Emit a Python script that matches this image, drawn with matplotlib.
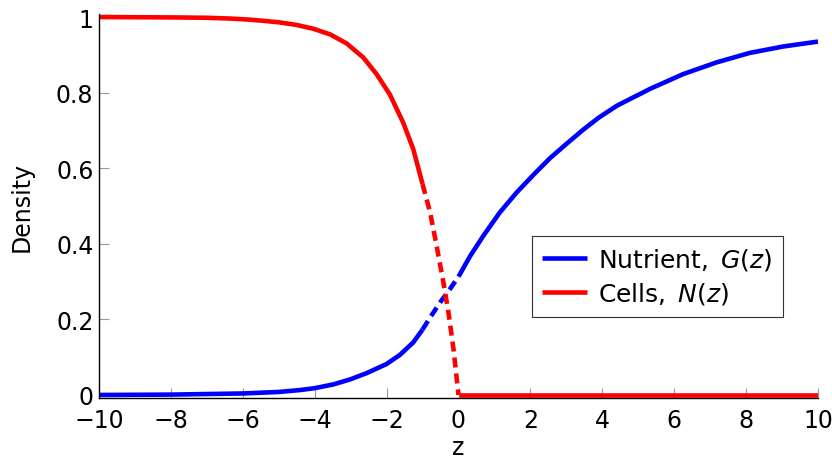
import numpy as np
import matplotlib
matplotlib.use("Agg")
import matplotlib.pyplot as plt

# values
# cells N(z)
z_cells_solid = [-10, -8, -7, -6.36, -5.8, -5.43, -5.0, -4.5, -4.04, -3.57, -3.11, -2.65, -2.28, -1.91, -1.54, -1.26, -1]
n_cells_solid = [1.0, 0.999, 0.998, 0.996, 0.993, 0.990, 0.986, 0.979, 0.969, 0.954, 0.930, 0.893, 0.849, 0.795, 0.721, 0.651, 0.558]
z_cells_dash = [-1, -0.79, -0.61, -0.42, -0.28, -0.14, 0]
n_cells_dash = [0.558, 0.483, 0.395, 0.298, 0.219, 0.122, 0.0]
z_cells_zero = [0, 10]
n_cells_zero = [0.0, 0.0]

# nutrient G(z)
z_nut_left = [-10, -8, -6, -5, -4.41, -4, -3.48, -3.02, -2.55, -2, -1.63, -1.26, -1]
g_nut_left = [0.0, 0.001, 0.004, 0.008, 0.013, 0.018, 0.028, 0.041, 0.058, 0.082, 0.106, 0.139, 0.173]
z_nut_dash = [-1, -0.79, -0.51, -0.24, 0]
g_nut_dash = [0.173, 0.205, 0.245, 0.28, 0.313]
z_nut_right = [0, 0.32, 0.69, 1.15, 1.62, 2.08, 2.55, 3.01, 3.47, 3.89, 4.4, 5.33, 6.25, 7.18, 8.1, 9.03, 10]
g_nut_right = [0.313, 0.367, 0.421, 0.483, 0.536, 0.582, 0.627, 0.665, 0.702, 0.733, 0.765, 0.81, 0.849, 0.88, 0.905, 0.922, 0.935]

xticks = [-10, -8, -6, -4, -2, 0, 2, 4, 6, 8, 10]
yticks = [0, 0.2, 0.4, 0.6, 0.8, 1]
ytick_labels = ["0", "0.2", "0.4", "0.6", "0.8", "1"]

plt.rcParams['font.family'] = ['DejaVu Sans']
plt.rcParams['mathtext.fontset'] = 'dejavusans'

fig = plt.figure(figsize=(8.32, 4.6), dpi=100)
ax = fig.add_axes([99/832, 61/460, 719/832, 384/460])

lw = 3.3
blue = '#0000ff'
red = '#ff0000'
dash = (2.2, 1.3)

ax.plot(z_nut_left, g_nut_left, color=blue, lw=lw, solid_capstyle='butt', solid_joinstyle='round',
        label=r"Nutrient, $\,G(z)$")
ax.plot(z_nut_dash, g_nut_dash, color=blue, lw=lw, dashes=dash, dash_capstyle='butt')
ax.plot(z_nut_right, g_nut_right, color=blue, lw=lw, solid_capstyle='butt', solid_joinstyle='round')

ax.plot(z_cells_solid, n_cells_solid, color=red, lw=lw, solid_capstyle='butt', solid_joinstyle='round',
        label=r"Cells, $\,N(z)$")
ax.plot(z_cells_dash, n_cells_dash, color=red, lw=lw, dashes=dash, dash_capstyle='butt')
ax.plot(z_cells_zero, n_cells_zero, color=red, lw=lw, solid_capstyle='butt')

ax.set_xlim(-10, 10)
ax.set_ylim(-0.008, 1.008)
ax.set_xticks(xticks)
ax.set_yticks(yticks)
ax.set_yticklabels(ytick_labels)

for s in ['top', 'right']:
    ax.spines[s].set_visible(False)
for s in ['left', 'bottom']:
    ax.spines[s].set_linewidth(1.0)
    ax.spines[s].set_color('black')

ax.tick_params(direction='in', length=7, width=0.8, color='#999999', labelsize=17)
ax.tick_params(axis='x', pad=7.5)
ax.tick_params(axis='y', pad=4)
ax.set_xlabel("z", fontsize=17, labelpad=2)
ax.set_ylabel("Density", fontsize=17, labelpad=16)

leg = ax.legend(loc='upper left', bbox_to_anchor=(0.602, 0.4227), borderaxespad=0,
                fontsize=18, handlelength=1.8, handletextpad=0.42, borderpad=0.42,
                labelspacing=0.33, fancybox=False, framealpha=1, edgecolor='#333333')
leg.get_frame().set_linewidth(0.8)

fig.savefig("out.png", dpi=100)
